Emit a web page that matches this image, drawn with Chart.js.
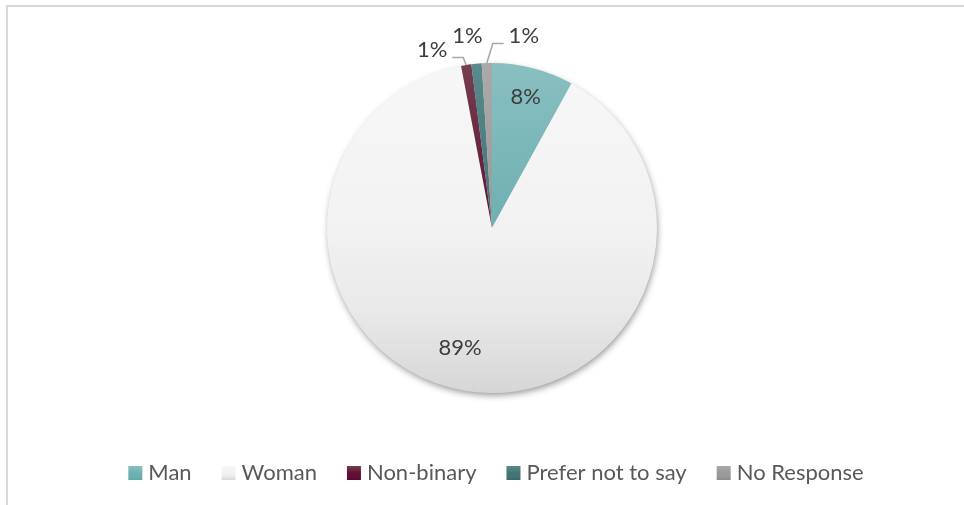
<!DOCTYPE html>
<html>
<head>
<meta charset="utf-8">
<script src="https://cdn.jsdelivr.net/npm/chart.js@4/dist/chart.umd.min.js"></script>
<style>
  html, body { margin: 0; padding: 0; background: #fff; overflow: hidden; }
  #wrap { position: relative; width: 964px; height: 505px; overflow: hidden; }
  #frame { position: absolute; left: 6px; top: 5px; width: 1000px; height: 600px;
           border-left: 2px solid #d9d9d9; border-top: 2px solid #d9d9d9; }
  canvas { position: absolute; left: 0; top: 0; }
</style>
</head>
<body>
<div id="wrap">
  <div id="frame"></div>
  <canvas id="c" width="964" height="505"></canvas>
</div>
<script>
// Respondents by gender (percent of total)
const categories = ['Man', 'Woman', 'Non-binary', 'Prefer not to say', 'No Response'];
const shares = [8, 89, 1, 1, 1];

// Slice fills: vertical gradient top -> middle -> bottom
const sliceTop    = ['#89bfc1', '#f7f7f7', '#74404f', '#58898b', '#aaaaaa'];
const sliceMid    = ['#6eb0b2', '#f2f2f2', '#620f35', '#437476', '#999999'];
const sliceBottom = ['#5fa6a8', '#d6d6d6', '#58082c', '#386a6c', '#8a8a8a'];

const FONT_FAMILY = 'Lato, "Liberation Sans", sans-serif';
const FONT_SIZE = 22;

function gradientFor(ctx2d, i, top, bottom) {
  const g = ctx2d.createLinearGradient(0, top, 0, bottom);
  g.addColorStop(0, sliceTop[i]);
  g.addColorStop(0.5, sliceMid[i]);
  g.addColorStop(0.75, i === 1 ? '#e9e9e9' : sliceMid[i]);
  g.addColorStop(1, sliceBottom[i]);
  return g;
}

// Soft drop shadow under the whole pie
const pieShadow = {
  id: 'pieShadow',
  beforeDatasetsDraw(chart) {
    const arc = chart.getDatasetMeta(0).data[0];
    if (!arc) return;
    const ctx = chart.ctx;
    ctx.save();
    ctx.shadowColor = 'rgba(0,0,0,0.45)';
    ctx.shadowBlur = 7;
    ctx.shadowOffsetX = 1;
    ctx.shadowOffsetY = 3;
    ctx.beginPath();
    ctx.arc(arc.x, arc.y, arc.outerRadius - 1, 0, Math.PI * 2);
    ctx.fillStyle = '#dcdcdc';
    ctx.fill();
    ctx.restore();
  }
};

// Percentage labels: inside labels along the slice bisector,
// outside labels offset from the slice rim with an elbow leader line
const sliceLabels = {
  id: 'sliceLabels',
  afterDatasetsDraw(chart, args, opts) {
    const ctx = chart.ctx;
    const meta = chart.getDatasetMeta(0);
    const total = shares.reduce((a, b) => a + b, 0);
    ctx.save();
    ctx.font = FONT_SIZE + 'px ' + FONT_FAMILY;
    ctx.fillStyle = '#3d3d3d';
    ctx.textAlign = 'center';
    ctx.textBaseline = 'middle';
    meta.data.forEach((arc, i) => {
      const text = Math.round(shares[i] / total * 100) + '%';
      const p = opts.placement[i];
      const mid = (arc.startAngle + arc.endAngle) / 2;
      if (p.inside) {
        const a = mid + (p.turn || 0) * Math.PI / 180;
        const r = arc.outerRadius * p.inside;
        ctx.fillText(text, arc.x + Math.cos(a) * r, arc.y + Math.sin(a) * r);
      } else {
        const ox = arc.x + Math.cos(mid) * arc.outerRadius;
        const oy = arc.y + Math.sin(mid) * arc.outerRadius;
        const lx = ox + p.dx, ly = oy + p.dy;
        ctx.fillText(text, lx, ly);
        if (p.leader) {
          const w = ctx.measureText(text).width;
          const ey = ly + 8;
          const ex = p.dx < 0 ? lx + w / 2 + 5 : lx - w / 2 - 5;
          ctx.save();
          ctx.strokeStyle = '#a6a6a6';
          ctx.lineWidth = 1.5;
          ctx.beginPath();
          ctx.moveTo(ox, oy);
          ctx.lineTo(ox + p.elbow, ey);
          ctx.lineTo(ex, ey);
          ctx.stroke();
          ctx.restore();
        }
      }
    });
    ctx.restore();
  }
};

// Legend row under the pie
const bottomLegend = {
  id: 'bottomLegend',
  afterDraw(chart, args, opts) {
    const ctx = chart.ctx;
    ctx.save();
    ctx.font = FONT_SIZE + 'px ' + FONT_FAMILY;
    const box = 14, boxGap = 6, itemGap = 30;
    const widths = categories.map(c => ctx.measureText(c).width);
    const total = widths.reduce((s, w) => s + box + boxGap + w, 0) + itemGap * (categories.length - 1);
    let x = opts.centerX - total / 2;
    const y = opts.baseline;
    categories.forEach((c, i) => {
      ctx.fillStyle = gradientFor(ctx, i, y - box, y);
      ctx.fillRect(x, y - box, box, box);
      ctx.fillStyle = '#595959';
      ctx.textAlign = 'left';
      ctx.textBaseline = 'alphabetic';
      ctx.fillText(c, x + box + boxGap, y);
      x += box + boxGap + widths[i] + itemGap;
    });
    ctx.restore();
  }
};

new Chart(document.getElementById('c'), {
  type: 'pie',
  data: {
    labels: categories,
    datasets: [{
      data: shares,
      backgroundColor: (c) => {
        const a = c.chart.chartArea;
        if (!a) return sliceTop[c.dataIndex];
        return gradientFor(c.chart.ctx, c.dataIndex, a.top, a.bottom);
      },
      borderWidth: 0
    }]
  },
  options: {
    responsive: false,
    animation: false,
    layout: { padding: { top: 63, bottom: 112, left: 20, right: 0 } },
    plugins: {
      legend: { display: false },
      tooltip: { enabled: false },
      sliceLabels: {
        placement: [
          { inside: 0.82 },
          { inside: 0.75, turn: 6 },
          { dx: -34, dy: -15.5, leader: true, elbow: -3 },
          { dx: -9, dy: -28 },
          { dx: 37, dy: -27.5, leader: true, elbow: 6 }
        ]
      },
      bottomLegend: { centerX: 496, baseline: 480 }
    }
  },
  plugins: [pieShadow, sliceLabels, bottomLegend]
});
</script>
</body>
</html>
